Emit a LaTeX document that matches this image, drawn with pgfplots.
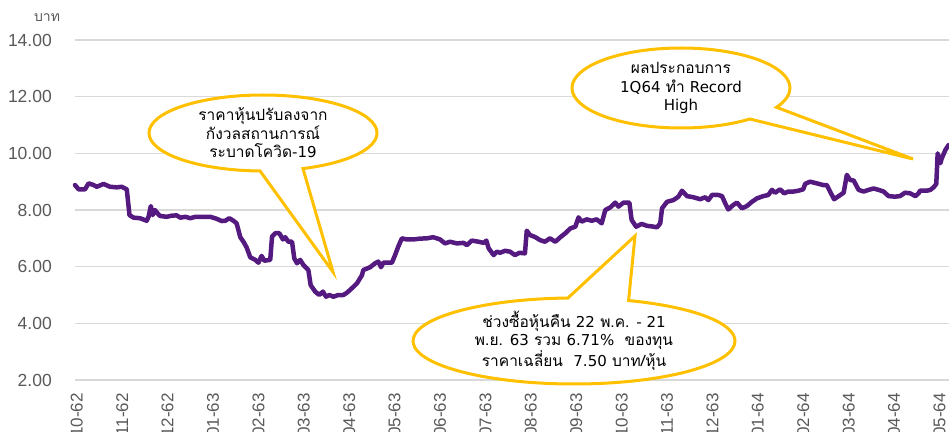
\documentclass[border=0pt]{standalone}
\usepackage{fontspec}
\usepackage{pgfplots}
\pgfplotsset{compat=1.18}
\usetikzlibrary{shapes.callouts}
\setmainfont{Liberation Sans}
\newfontfamily\thaifont[Script=Thai]{Loma}
\newfontfamily\lat{DejaVu Sans}
\definecolor{linepurple}{RGB}{84,26,128}
\definecolor{calloutgold}{RGB}{255,192,0}
\definecolor{gridgray}{RGB}{217,217,217}
\definecolor{ticktext}{RGB}{89,89,89}
\begin{document}
\begin{tikzpicture}
\useasboundingbox (-75bp,-52bp) rectangle (874bp,380bp);
\begin{axis}[
  anchor=south west, at={(0,0)},
  scale only axis, width=874bp, height=340bp,
  xmin=-0.04, xmax=19.21, ymin=2, ymax=14,
  axis line style={draw=none},
  major tick length=0pt,
  ytick={2,4,6,8,10,12,14},
  xtick={0,1,...,19},
  xticklabels={10-62,11-62,12-62,01-63,02-63,03-63,04-63,05-63,06-63,07-63,08-63,09-63,10-63,11-63,12-63,01-64,02-64,03-64,04-64,05-64},
  ymajorgrids,
  grid style={gridgray, line width=1.5bp},
  /pgf/number format/.cd, fixed, fixed zerofill, precision=2, assume math mode=true,
  /pgfplots/.cd,
  yticklabel style={font=\fontsize{17.5bp}{20bp}\selectfont, text=ticktext, anchor=east, inner xsep=23bp, inner ysep=0pt},
  xticklabel style={font=\fontsize{17bp}{20bp}\selectfont, text=ticktext, rotate=90, anchor=east, inner xsep=13bp, inner ysep=0pt},
  clip=false,
]
\addplot[linepurple, line width=4.5bp, line join=round, line cap=round] coordinates {
(-0.04,8.88) (0.04,8.73) (0.18,8.73) (0.26,8.94) (0.37,8.88) (0.44,8.82) (0.59,8.92) (0.73,8.82) (0.88,8.80) (0.99,8.82) (1.10,8.73)
(1.16,7.82) (1.25,7.73) (1.39,7.71) (1.54,7.62) (1.58,7.76) (1.63,8.14) (1.67,7.82) (1.72,8.00) (1.78,7.88) (1.83,7.79)
(1.98,7.76) (2.09,7.80) (2.20,7.81) (2.28,7.73) (2.39,7.76) (2.50,7.71) (2.61,7.76) (2.79,7.76) (2.94,7.76) (3.08,7.69)
(3.19,7.61) (3.27,7.62) (3.36,7.71) (3.45,7.62) (3.52,7.53) (3.60,7.04) (3.67,6.88) (3.74,6.68) (3.82,6.33) (3.93,6.24)
(4.00,6.14) (4.07,6.38) (4.13,6.21) (4.26,6.24) (4.30,7.06) (4.37,7.18) (4.46,7.18) (4.54,6.96) (4.59,7.04) (4.66,6.88)
(4.74,6.88) (4.79,6.29) (4.85,6.12) (4.92,6.24) (4.99,6.06) (5.10,5.88) (5.15,5.35) (5.25,5.12) (5.34,5.00) (5.42,5.12)
(5.49,4.94) (5.56,5.00) (5.65,4.94) (5.76,5.00) (5.87,5.00) (5.95,5.08) (6.06,5.24) (6.17,5.41) (6.28,5.70) (6.31,5.88)
(6.46,5.98) (6.57,6.12) (6.64,6.18) (6.70,5.98) (6.75,6.14) (6.94,6.14) (7.01,6.41) (7.08,6.71) (7.16,7.00) (7.27,6.96)
(7.41,6.96) (7.56,6.99) (7.71,7.00) (7.85,7.04) (8.00,6.96) (8.11,6.82) (8.22,6.88) (8.37,6.82) (8.52,6.84) (8.59,6.76)
(8.70,6.92) (8.85,6.88) (8.96,6.84) (9.02,6.92) (9.07,6.65) (9.18,6.41) (9.25,6.53) (9.32,6.49) (9.43,6.56) (9.54,6.53)
(9.65,6.41) (9.75,6.49) (9.87,6.47) (9.91,7.27) (9.98,7.12) (10.10,7.04) (10.20,6.94) (10.31,6.88) (10.42,7.00) (10.54,6.88)
(10.65,7.04) (10.76,7.18) (10.87,7.35) (10.98,7.41) (11.05,7.74) (11.12,7.59) (11.23,7.67) (11.34,7.62) (11.45,7.67) (11.56,7.53)
(11.64,8.00) (11.75,8.09) (11.86,8.26) (11.93,8.12) (12.04,8.26) (12.17,8.26) (12.22,7.65) (12.32,7.41) (12.44,7.51) (12.56,7.44)
(12.67,7.42) (12.78,7.39) (12.85,7.53) (12.89,8.06) (13.00,8.29) (13.14,8.35) (13.25,8.47) (13.33,8.68) (13.44,8.49) (13.58,8.45)
(13.73,8.38) (13.84,8.45) (13.91,8.35) (13.99,8.53) (14.13,8.53) (14.21,8.49) (14.28,8.24) (14.35,8.02) (14.46,8.18) (14.54,8.26)
(14.65,8.06) (14.76,8.14) (14.87,8.29) (14.98,8.41) (15.12,8.49) (15.23,8.53) (15.31,8.71) (15.38,8.61) (15.49,8.73) (15.58,8.59)
(15.67,8.65) (15.78,8.65) (15.89,8.68) (16.00,8.73) (16.04,8.92) (16.15,9.00) (16.30,8.94) (16.44,8.88) (16.52,8.88) (16.59,8.65)
(16.68,8.38) (16.78,8.49) (16.89,8.61) (16.96,9.24) (17.03,9.06) (17.11,9.04) (17.22,8.71) (17.33,8.65) (17.44,8.71) (17.55,8.76)
(17.66,8.71) (17.77,8.65) (17.88,8.49) (18.02,8.47) (18.13,8.49) (18.24,8.61) (18.35,8.59) (18.47,8.49) (18.54,8.59) (18.57,8.68)
(18.72,8.68) (18.80,8.71) (18.87,8.80) (18.93,8.92) (18.96,10.00) (19.02,9.65) (19.05,9.82) (19.13,10.12) (19.20,10.29)
};
\end{axis}
\node[text=ticktext, font=\thaifont\fontsize{14bp}{16bp}\selectfont] at (-28bp,362bp) {บาท};
\tikzset{co/.style={ellipse callout, draw=calloutgold, line width=3bp, fill=white, inner sep=0pt, callout pointer arc=22, align=center, text=black, font=\thaifont\fontsize{15.5bp}{18.5bp}\selectfont}}
\node[co, minimum width=228bp, minimum height=76bp, callout absolute pointer={(258bp,108bp)}] at (188bp,247bp)
  {ราคาหุ้นปรับลงจาก\\กังวลสถานการณ์\\ระบาดโควิด{\lat\fontsize{15bp}{18.5bp}\selectfont-19}};
\node[co, minimum width=218bp, minimum height=80bp, callout absolute pointer={(838bp,221bp)}] at (606bp,292bp)
  {ผลประกอบการ\\{\lat\fontsize{15bp}{18.5bp}\selectfont 1Q64} ทำ {\lat\fontsize{15bp}{18.5bp}\selectfont Record}\\{\lat\fontsize{15bp}{18.5bp}\selectfont High}};
\node[co, minimum width=322bp, minimum height=86bp, callout absolute pointer={(560bp,144bp)}] at (499bp,39bp)
  {ช่วงซื้อหุ้นคืน {\lat\fontsize{15bp}{18.5bp}\selectfont 22} พ.ค. {\lat\fontsize{15bp}{18.5bp}\selectfont - 21}\\พ.ย. {\lat\fontsize{15bp}{18.5bp}\selectfont 63} รวม {\lat\fontsize{15bp}{18.5bp}\selectfont 6.71\%}\ \ ของทุน\\ราคาเฉลี่ยน\ \ {\lat\fontsize{15bp}{18.5bp}\selectfont 7.50} บาท/หุ้น};
\end{tikzpicture}
\end{document}
